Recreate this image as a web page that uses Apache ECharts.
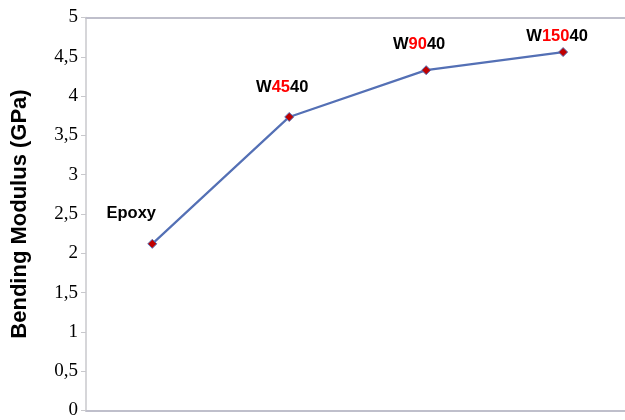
<!DOCTYPE html>
<html>
<head>
<meta charset="utf-8">
<script src="https://cdn.jsdelivr.net/npm/echarts@6/dist/echarts.min.js"></script>
<style>html,body{margin:0;padding:0;background:#fff}#c{width:625px;height:420px}</style>
</head>
<body>
<div id="c"></div>
<script>
var categories = ['Epoxy', 'W4540', 'W9040', 'W15040'];
var labelParts = [['Epoxy', '', ''], ['W', '45', '40'], ['W', '90', '40'], ['W', '150', '40']];
var modulus = [2.12, 3.735, 4.33, 4.56];
var yTicks = { min: 0, max: 5, interval: 0.5 };

var labelOffsets = [[-21, 1], [-7, 2], [-7, 6], [-6, 16]];

var chart = echarts.init(document.getElementById('c'));
var seriesData = modulus.map(function (v, i) {
  return {
    value: [i, v],
    label: { offset: labelOffsets[i] }
  };
});

chart.setOption({
  animation: false,
  grid: { left: 86, right: 0, top: 17.5, bottom: 9, containLabel: false },
  xAxis: [{
    type: 'value', min: -0.484, max: 3.452,
    axisLine: { show: true, onZero: false, lineStyle: { color: '#BFBFCB', width: 2 } },
    axisTick: { show: false }, axisLabel: { show: false }, splitLine: { show: false }
  }, {
    type: 'value', position: 'top', min: -0.484, max: 3.452,
    axisLine: { show: true, onZero: false, lineStyle: { color: '#BFBFCB', width: 2 } },
    axisTick: { show: false }, axisLabel: { show: false }, splitLine: { show: false }
  }],
  yAxis: {
    type: 'value', min: yTicks.min, max: yTicks.max, interval: yTicks.interval,
    name: 'Bending Modulus (GPa)', nameLocation: 'middle', nameGap: 55,
    nameTextStyle: { fontFamily: 'Liberation Sans', fontWeight: 'bold', fontSize: 22, color: '#000' },
    axisLine: { show: true, onZero: false, lineStyle: { color: '#C8C8CC', width: 1.5 } },
    axisTick: { show: true, length: 5, lineStyle: { color: '#C8C8CC' } },
    axisLabel: {
      fontFamily: 'Liberation Serif', fontSize: 19, color: '#000', margin: 8,
      formatter: function (v) { return String(v).replace('.', ','); }
    },
    splitLine: { show: false }
  },
  series: [{
    type: 'line',
    data: seriesData,
    symbol: 'diamond', symbolSize: 9,
    lineStyle: { color: '#5470B5', width: 2.2 },
    itemStyle: { color: '#C00000', borderColor: '#5470B5', borderWidth: 1 },
    label: {
      show: true, position: 'top', distance: 18,
      formatter: function (p) {
        var parts = labelParts[p.dataIndex];
        var s = '{a|' + parts[0] + '}';
        if (parts[1]) s += '{r|' + parts[1] + '}';
        if (parts[2]) s += '{a|' + parts[2] + '}';
        return s;
      },
      rich: {
        a: { fontFamily: 'Liberation Sans', fontWeight: 'bold', fontSize: 16.5, color: '#000' },
        r: { fontFamily: 'Liberation Sans', fontWeight: 'bold', fontSize: 16.5, color: '#FF0000' }
      }
    }
  }]
});
</script>
</body>
</html>
